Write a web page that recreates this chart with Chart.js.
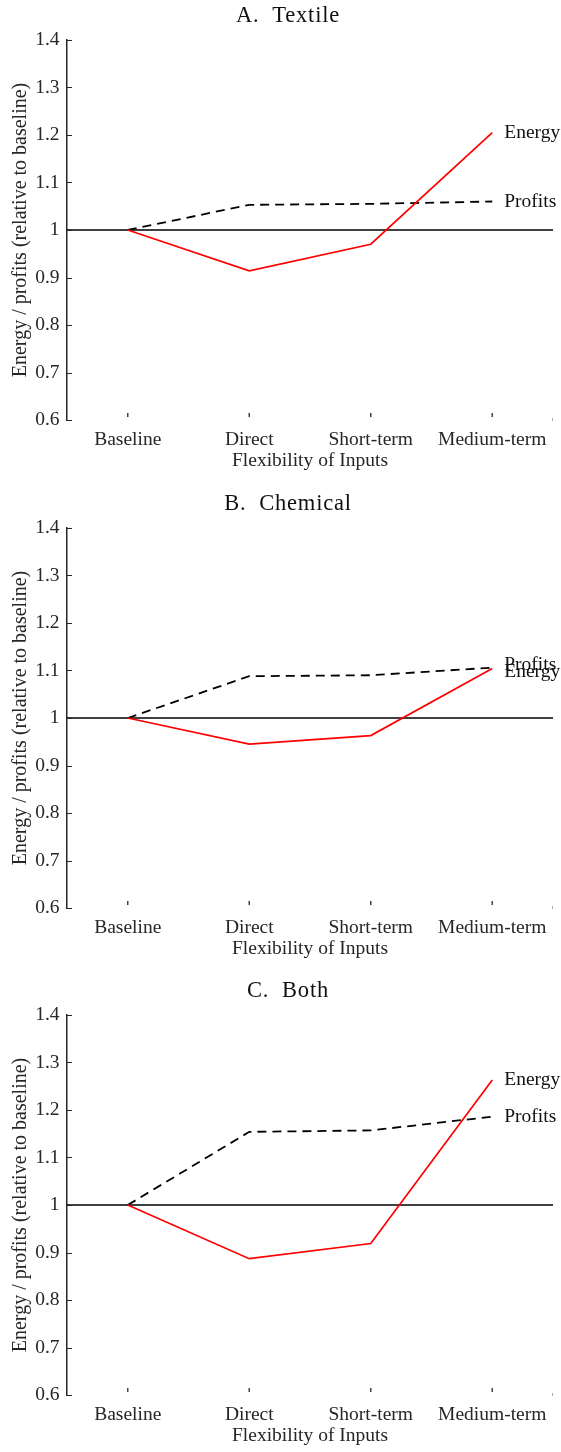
<!DOCTYPE html>
<html>
<head>
<meta charset="utf-8">
<script src="https://cdn.jsdelivr.net/npm/chart.js@4"></script>
<style>
  body { margin: 0; background: #fff; }
  .panel { position: absolute; left: 0; width: 561px; height: 477px; }
</style>
</head>
<body>
<div class="panel" style="top:0px"><canvas id="chart-a" width="561" height="477"></canvas></div>
<div class="panel" style="top:488px"><canvas id="chart-b" width="561" height="477"></canvas></div>
<div class="panel" style="top:975px"><canvas id="chart-c" width="561" height="477"></canvas></div>
<script>
const categories = ["Baseline", "Direct", "Short-term", "Medium-term"];
const yTicks = [0.6, 0.7, 0.8, 0.9, 1, 1.1, 1.2, 1.3, 1.4];
const baselineLevel = 1;

const panelTitles = ["A.  Textile", "B.  Chemical", "C.  Both"];

const energyTextile = [1, 0.914, 0.970, 1.205];
const profitsTextile = [1, 1.053, 1.055, 1.060];

const energyChemical = [1, 0.945, 0.963, 1.104];
const profitsChemical = [1, 1.088, 1.090, 1.106];

const energyBoth = [1, 0.887, 0.919, 1.263];
const profitsBoth = [1, 1.154, 1.157, 1.186];

const serif = "'Liberation Serif', 'Times New Roman', serif";
const ink = "#262626";

// line at 1, inward ticks, panel title and the labels at the line ends
const decorations = {
  id: "decorations",
  beforeDatasetsDraw(chart) {
    const { ctx, chartArea: area, scales: { x, y } } = chart;
    ctx.save();
    const y1 = y.getPixelForValue(baselineLevel);
    ctx.strokeStyle = "#000";
    ctx.lineWidth = 1.5;
    ctx.beginPath();
    ctx.moveTo(area.left, y1);
    ctx.lineTo(area.right, y1);
    ctx.stroke();

    ctx.strokeStyle = ink;
    ctx.lineWidth = 1;
    yTicks.forEach((v) => {
      const py = Math.round(y.getPixelForValue(v)) + 0.5;
      ctx.beginPath();
      ctx.moveTo(area.left, py);
      ctx.lineTo(area.left + 5, py);
      ctx.stroke();
    });

    ctx.strokeStyle = "#444";
    ctx.lineWidth = 1.5;
    categories.forEach((c, i) => {
      const px = x.getPixelForValue(i);
      ctx.beginPath();
      ctx.moveTo(px, area.bottom - 7);
      ctx.lineTo(px, area.bottom - 3);
      ctx.stroke();
    });
    ctx.strokeStyle = "#aaa";
    ctx.lineWidth = 1;
    ctx.beginPath();
    ctx.moveTo(area.right - 0.5, area.bottom - 2);
    ctx.lineTo(area.right - 0.5, area.bottom + 1);
    ctx.stroke();
    ctx.restore();
  },
  afterDatasetsDraw(chart, args, opts) {
    const { ctx } = chart;
    ctx.save();
    ctx.fillStyle = "#111";
    ctx.font = "22.5px " + serif;
    ctx.letterSpacing = "0.8px";
    ctx.textAlign = "center";
    ctx.textBaseline = "alphabetic";
    ctx.fillText(opts.title, 288, 22);
    ctx.letterSpacing = "0px";

    const ends = chart.data.datasets.map((ds, i) => {
      const pts = chart.getDatasetMeta(i).data;
      const last = pts[pts.length - 1];
      return { text: ds.label, x: last.x, y: last.y };
    });
    // keep the two labels from sitting exactly on top of each other
    const minGap = 7;
    const [a, b] = ends;
    if (Math.abs(a.y - b.y) < minGap) {
      const mid = (a.y + b.y) / 2;
      const upper = a.y <= b.y ? a : b;
      const lower = upper === a ? b : a;
      upper.y = mid - minGap / 2;
      lower.y = mid + minGap / 2;
    }
    ctx.fillStyle = "#111";
    ctx.font = "19.5px " + serif;
    ctx.textAlign = "left";
    ctx.textBaseline = "middle";
    ends.forEach((e) => ctx.fillText(e.text, e.x + 12, e.y));
    ctx.restore();
  }
};

function makePanel(id, title, energy, profits) {
  new Chart(document.getElementById(id), {
    type: "line",
    data: {
      labels: categories,
      datasets: [
        {
          label: "Energy",
          data: energy,
          borderColor: "#ff0000",
          borderWidth: 1.7,
          pointRadius: 0,
          tension: 0,
        },
        {
          label: "Profits",
          data: profits,
          borderColor: "#000000",
          borderWidth: 1.8,
          borderDash: [9, 6],
          pointRadius: 0,
          tension: 0,
        },
      ],
    },
    options: {
      responsive: false,
      animation: false,
      layout: { padding: { top: 40, right: 8, left: 0, bottom: 0 } },
      plugins: {
        legend: { display: false },
        tooltip: { enabled: false },
        decorations: { title: title },
      },
      scales: {
        x: {
          type: "category",
          offset: true,
          grid: { display: false, drawTicks: false },
          border: { display: false },
          ticks: { color: ink, padding: 8, font: { family: serif, size: 19.5 }, maxRotation: 0 },
          title: {
            display: true,
            text: "Flexibility of Inputs",
            color: ink,
            font: { family: serif, size: 19.5 },
            padding: { top: 0, bottom: 4 },
          },
          afterFit: (s) => { s.height = 57; },
        },
        y: {
          min: 0.6,
          max: 1.4,
          grid: { display: false, drawTicks: false },
          border: { display: true, color: ink, width: 1.5 },
          afterBuildTicks: (s) => { s.ticks = yTicks.map((v) => ({ value: v })); },
          ticks: {
            color: ink,
            padding: 7.5,
            font: { family: serif, size: 19.5 },
            callback: (v) => String(Number(Number(v).toFixed(1))),
          },
          title: {
            display: true,
            text: "Energy / profits (relative to baseline)",
            color: ink,
            font: { family: serif, size: 20 },
            padding: { top: 9, bottom: 0 },
          },
          afterFit: (s) => { s.width = 67; },
        },
      },
    },
    plugins: [decorations],
  });
}

makePanel("chart-a", panelTitles[0], energyTextile, profitsTextile);
makePanel("chart-b", panelTitles[1], energyChemical, profitsChemical);
makePanel("chart-c", panelTitles[2], energyBoth, profitsBoth);
</script>
</body>
</html>
